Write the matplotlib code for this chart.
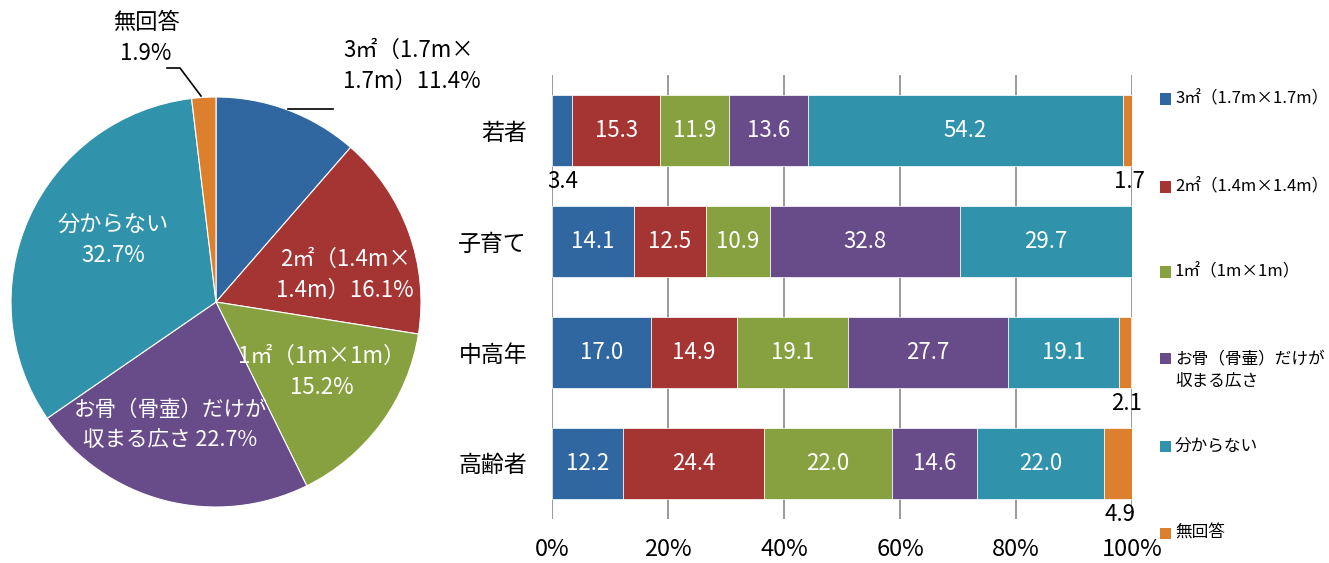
import matplotlib
matplotlib.use("Agg")
import matplotlib.pyplot as plt
from matplotlib.patches import Rectangle
import numpy as np

plt.rcParams['font.family'] = ['Noto Sans CJK JP', 'DejaVu Sans']

# Overall answer shares (pie)
pie_labels = ["3㎡（1.7m×\n1.7m）11.4%", "2㎡（1.4m×\n1.4m）16.1%", "1㎡（1m×1m）\n15.2%",
              "お骨（骨壷）だけが\n収まる広さ 22.7%", "分からない\n32.7%", "無回答\n1.9%"]
pie_values = [11.4, 16.1, 15.2, 22.7, 32.7, 1.9]

# Answers by age group (stacked bars)
groups = ["若者", "子育て", "中高年", "高齢者"]
series_names = ["3㎡（1.7m×1.7m）", "2㎡（1.4m×1.4m）", "1㎡（1m×1m）",
                "お骨（骨壷）だけが\n収まる広さ", "分からない", "無回答"]
s_3m2 = [3.4, 14.1, 17.0, 12.2]
s_2m2 = [15.3, 12.5, 14.9, 24.4]
s_1m2 = [11.9, 10.9, 19.1, 22.0]
s_bones = [13.6, 32.8, 27.7, 14.6]
s_unknown = [54.2, 29.7, 19.1, 22.0]
s_noanswer = [1.7, 0.0, 2.1, 4.9]
x_ticks = [0, 20, 40, 60, 80, 100]

colors = ["#3167A0", "#A53533", "#87A140", "#684B89", "#3192AC", "#DC802D"]

W, H = 1329, 563
fig = plt.figure(figsize=(W / 100, H / 100), dpi=100)
fig.patch.set_facecolor("white")

# ---- Pie ----
cx, cy, r = 216, 302, 205
pax = fig.add_axes([(cx - r) / W, (H - cy - r) / H, 2 * r / W, 2 * r / H])
pax.pie(pie_values, colors=colors, startangle=90, counterclock=False,
        radius=1.0, wedgeprops=dict(edgecolor="white", linewidth=0.8))
pax.set_xlim(-1, 1)
pax.set_ylim(-1, 1)
pax.set_aspect("equal")
pax.axis("off")


def px(x, y):
    return ((x - cx) / r, (cy - y) / r)


pfs = 16
inner = [(1, (345, 275), 16), (2, (322, 372), 16), (3, (170, 425), 15.5), (4, (113, 240), 16)]
for idx, (x, y), fs in inner:
    pax.text(*px(x, y), pie_labels[idx], color="white", fontsize=fs,
             ha="center", va="center", linespacing=1.45, clip_on=False)

pax.text(*px(343, 66), pie_labels[0], color="black", fontsize=pfs,
         ha="left", va="center", linespacing=1.45, clip_on=False)
pax.text(*px(146, 38), pie_labels[5], color="black", fontsize=pfs,
         ha="center", va="center", linespacing=1.45, clip_on=False)

l1 = np.array([px(288, 109), px(333, 109)])
pax.plot(l1[:, 0], l1[:, 1], color="black", lw=1.2, clip_on=False)
l2 = np.array([px(201, 96), px(180, 68), px(167, 68)])
pax.plot(l2[:, 0], l2[:, 1], color="black", lw=1.2, clip_on=False)

# ---- Stacked bars ----
bx0, bx1, by0, by1 = 552, 1132, 75, 519
bax = fig.add_axes([bx0 / W, (H - by1) / H, (bx1 - bx0) / W, (by1 - by0) / H])
series = [s_3m2, s_2m2, s_1m2, s_bones, s_unknown, s_noanswer]
ypos = np.arange(len(groups))
left = np.zeros(len(groups))
bar_h = 0.64
for k, vals in enumerate(series):
    vals = np.array(vals)
    bax.barh(ypos, vals, left=left, height=bar_h, color=colors[k],
             edgecolor="white", linewidth=0.5, zorder=3)
    for i, v in enumerate(vals):
        if v <= 0:
            continue
        xc = left[i] + v / 2
        if v >= 5:
            bax.text(xc, ypos[i], f"{v:.1f}", color="white", fontsize=16,
                     ha="center", va="center", zorder=4)
        else:
            bax.annotate(f"{v:.1f}", (xc, ypos[i] + bar_h / 2), xytext=(1, -3),
                         textcoords="offset points", color="black", fontsize=16,
                         ha="center", va="top", zorder=4, annotation_clip=False)
    left += vals

bax.set_xlim(0, 100)
bax.set_ylim(len(groups) - 0.5, -0.5)
bax.set_yticks(ypos)
bax.set_yticklabels(groups, fontsize=16.5)
bax.set_xticks(x_ticks)
bax.set_xticklabels([f"{t}%" for t in x_ticks], fontsize=17)
bax.tick_params(axis="both", length=0)
bax.tick_params(axis="y", pad=18)
bax.tick_params(axis="x", pad=14)
for s in bax.spines.values():
    s.set_visible(False)
bax.grid(axis="x", color="#9A9A9A", linewidth=1.4, zorder=0)
bax.set_axisbelow(True)

# ---- Legend ----
leg_y = [99, 187, 272, 358, 446, 533]
for k, name in enumerate(series_names):
    y = leg_y[k]
    fig.patches.append(Rectangle((1160 / W, (H - y - 5.5) / H), 11 / W, 11 / H,
                                 transform=fig.transFigure, facecolor=colors[k],
                                 edgecolor="none"))
    ty = y + 12.5 if "\n" in name else y
    fig.text(1175 / W, (H - ty) / H, name, fontsize=12, ha="left",
             va="center", linespacing=1.35, transform=fig.transFigure)

fig.savefig("out.png", dpi=100, facecolor="white")
